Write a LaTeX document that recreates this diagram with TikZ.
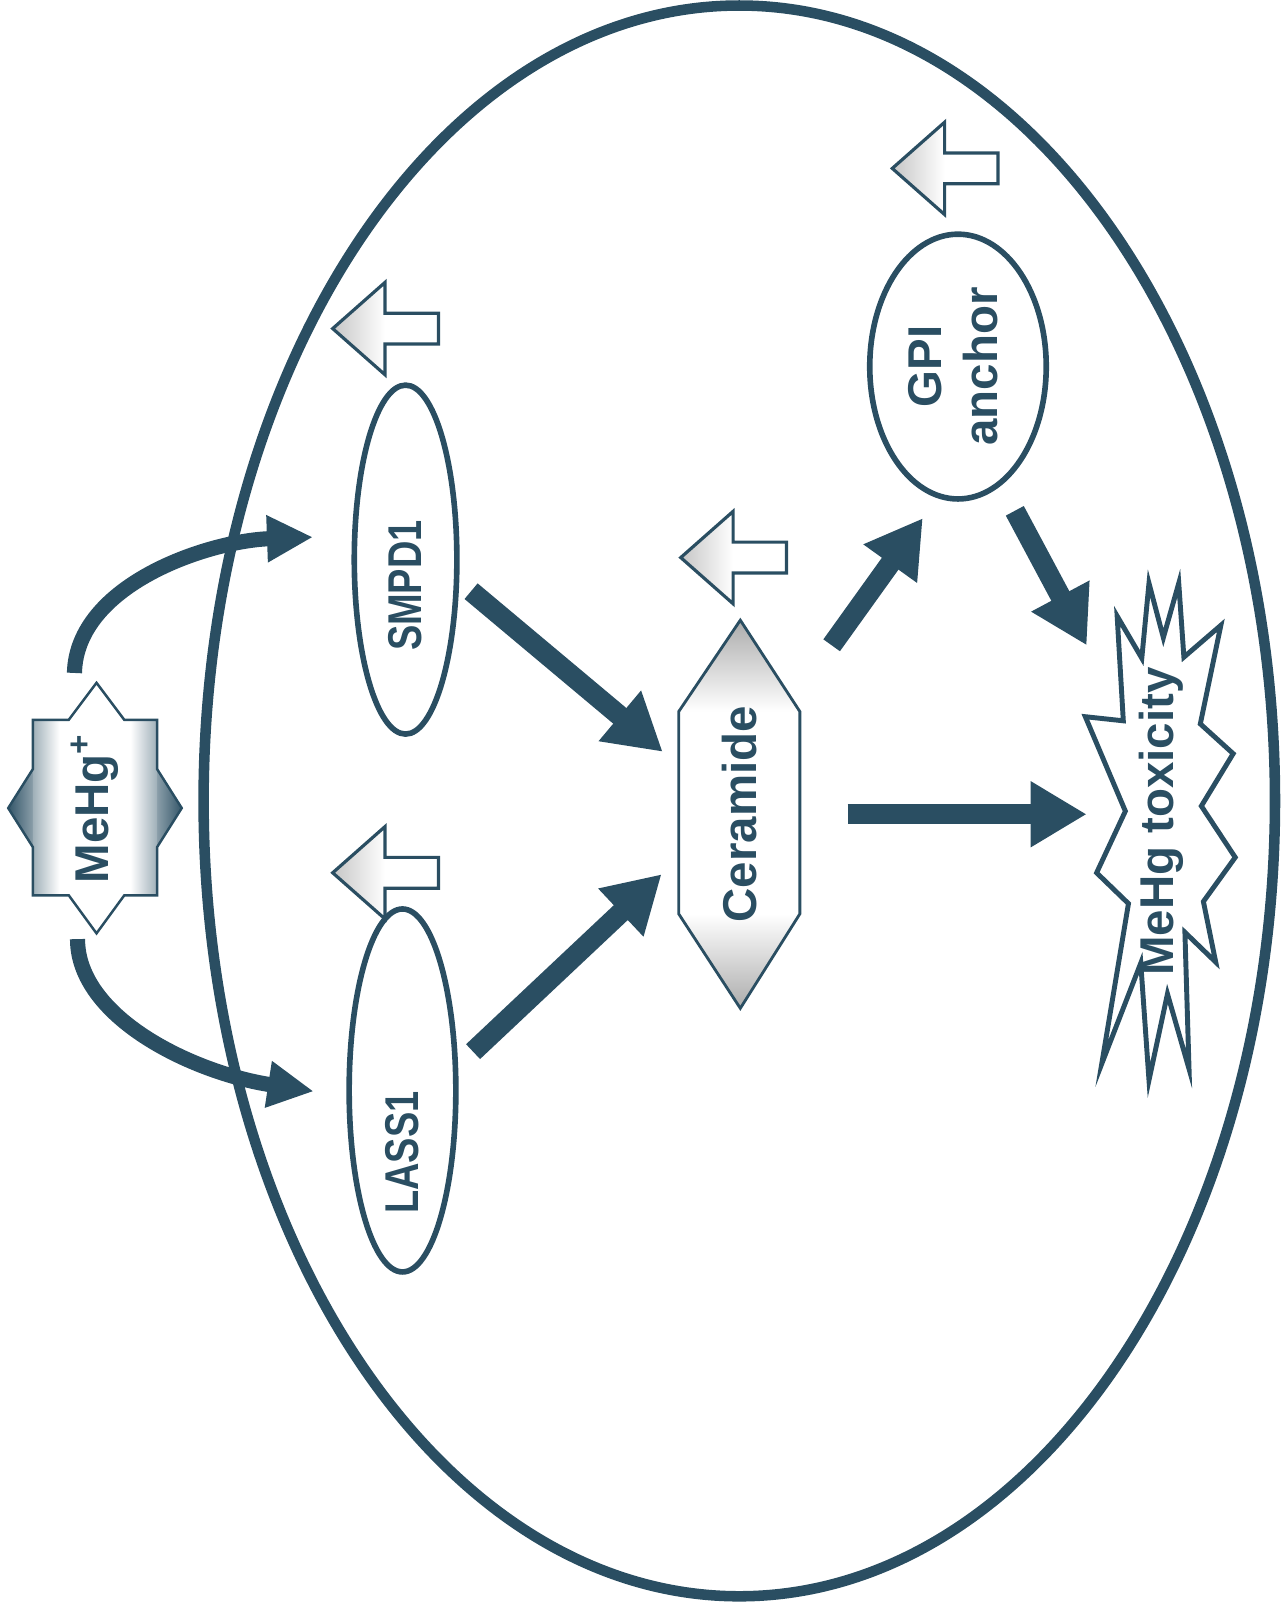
\documentclass[tikz,border=0pt]{standalone}
\usepackage{fontspec}
\setmainfont{Liberation Sans}
\usetikzlibrary{arrows.meta,shapes.geometric,calc}
\definecolor{ink}{RGB}{42,78,98}
\tikzset{
  oval/.style={ellipse, draw=ink, line width=1.6pt, inner sep=0pt},
  lbl/.style={font=\fontsize{13.5}{16}\selectfont\bfseries, text=ink, inner sep=0pt},
  fatarr/.style={ink, line width=5.8pt, -{Triangle[length=0.56cm,width=0.62cm]}},
  curvearr/.style={ink, line width=4.3pt, -{Triangle[length=0.46cm,width=0.44cm]}},
  hollowarr/.style={draw=ink, line width=0.9pt, line join=miter}
}
\begin{document}
\begin{tikzpicture}[x=0.010264cm, y=-0.010264cm]
\useasboundingbox (0,0) rectangle (1251,1568);
\node[ellipse, draw=ink, line width=3pt, minimum width=10.715cm, minimum height=15.909cm] (cell) at (720,780){};

% MeHg+ box
\shade[left color=ink!95, right color=ink!55] (8,787) -- (32,749) -- (32,825) -- cycle;
\shade[left color=ink!45, right color=white] (32,701) rectangle (58,872);
\shade[left color=ink!55, right color=ink!95] (177,787) -- (153,749) -- (153,825) -- cycle;
\shade[left color=white, right color=ink!45] (127,701) rectangle (153,872);
\draw[ink, line width=0.7pt, line join=miter] (94,665) -- (121,701) -- (153,701) -- (153,749) -- (177,787) -- (153,825) -- (153,872) -- (121,872) -- (94,909) -- (67,872) -- (32,872) -- (32,825) -- (8,787) -- (32,749) -- (32,701) -- (67,701) -- cycle;
\node[lbl, minimum width=1.735cm, minimum height=2.504cm] (mehg) at (92.5,787){\rotatebox{90}{MeHg\textsuperscript{+}}};

% ceramide
\shade[top color=gray!65, bottom color=white] (721,604) -- (779,693) -- (661,693) -- cycle;
\shade[top color=white, bottom color=gray!65] (661,890) -- (779,890) -- (721,982) -- cycle;
\draw[ink, line width=0.8pt, line join=miter] (721,604) -- (779,693) -- (779,890) -- (721,982) -- (661,890) -- (661,693) -- cycle;
\node[lbl, minimum width=1.211cm, minimum height=3.88cm] (cer) at (720,793){\rotatebox{90}{Ceramide}};

% toxicity burst
\draw[ink, fill=white, line width=1.4pt, line join=miter] (1057,698) -- (1094,702) -- (1088,600) -- (1112,641) -- (1119,568) -- (1133,621) -- (1148,568) -- (1153,640) -- (1189,609) -- (1169,705) -- (1201,734) -- (1170,785) -- (1203,835) -- (1172,878) -- (1184,937) -- (1154,908) -- (1158,1041) -- (1137,968) -- (1119,1052) -- (1111,938) -- (1073,1036) -- (1099,880) -- (1068,850) -- (1096,790) -- cycle;
\node[ellipse, lbl, minimum width=1.478cm, minimum height=5.09cm] (tox) at (1131,800){\rotatebox{90}{MeHg toxicity}};

\node[oval, minimum width=1.026cm, minimum height=3.49cm, label={[lbl, yshift=-0.26cm]center:\rotatebox{90}{\scalebox{0.8}[1]{SMPD1}}}] (smpd1) at (395,545){};
\node[oval, minimum width=1.067cm, minimum height=3.63cm, label={[lbl, yshift=-0.62cm]center:\rotatebox{90}{\scalebox{0.8}[1]{LASS1}}}] (lass1) at (392,1062){};
\node[oval, lbl, minimum width=1.765cm, minimum height=2.648cm] (gpi) at (933,357){\rotatebox{90}{\begin{tabular}{@{}c@{}}GPI\\anchor\end{tabular}}};

% up arrows
\foreach \tx/\ty in {324/850, 324/320, 663/543, 869/164}{
  \shade[left color=gray!45, right color=white] (\tx,\ty) -- (\tx+51,\ty-45) -- (\tx+51,\ty+45) -- cycle;
  \draw[hollowarr] (\tx,\ty) -- (\tx+51,\ty-45) -- (\tx+51,\ty-15) -- (\tx+103,\ty-15) -- (\tx+103,\ty+15) -- (\tx+51,\ty+15) -- (\tx+51,\ty+45) -- cycle;
}

\draw[curvearr, shorten >=0.39cm] ($(mehg.north)+(-20,-9)$) .. controls +(2,-86) and +(-140,5) .. (smpd1.156);
\draw[curvearr, shorten >=0.33cm] ($(mehg.south)+(-17,5)$) .. controls +(0,76) and +(-150,-23) .. (lass1.186);
\draw[fatarr, shorten <=0.154cm, shorten >=0.20cm] (smpd1.338) -- (cer.141);
\draw[fatarr, shorten <=0.205cm, shorten >=0.226cm] (lass1.24) -- (cer.216);
\draw[fatarr, shorten <=0.534cm, shorten >=0.246cm] (cer.64) -- (gpi.261);
\draw[fatarr, shorten <=0.287cm, shorten >=0.30cm] (gpi.290) -- (tox.112);
\draw[fatarr, shorten <=0.472cm] (cer.east) -- (cer.east -| tox.west);

\end{tikzpicture}
\end{document}
